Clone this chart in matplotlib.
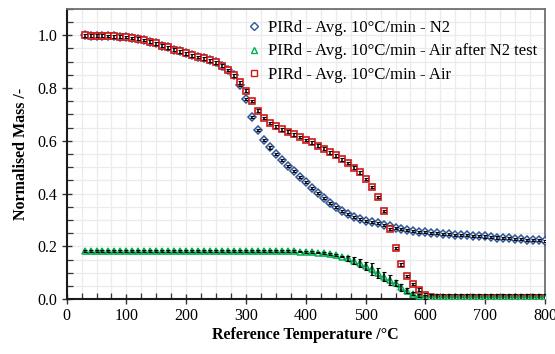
import numpy as np
import matplotlib
matplotlib.use("Agg")
import matplotlib.pyplot as plt
from matplotlib.ticker import MultipleLocator, FormatStrFormatter
from matplotlib.lines import Line2D
import matplotlib.transforms as mtransforms

# Reference temperature (°C)
temperature = list(range(30, 801, 10))

# Shared early part of the N2 and Air curves (30-280 °C)
early = [1.000, 0.999, 0.998, 0.998, 0.997, 0.996, 0.995, 0.993, 0.990, 0.987,
         0.982, 0.976, 0.969, 0.961, 0.954, 0.946, 0.939, 0.932, 0.924, 0.918,
         0.912, 0.905, 0.897, 0.885, 0.869, 0.848]

mass_n2 = early + [
    0.813, 0.759, 0.690, 0.641, 0.603, 0.575, 0.549, 0.527, 0.506, 0.485,
    0.464, 0.443, 0.423, 0.402, 0.382, 0.366, 0.350, 0.334, 0.322, 0.311,
    0.303, 0.298, 0.292, 0.288, 0.283, 0.276, 0.271, 0.266, 0.262, 0.259,
    0.256, 0.254, 0.252, 0.250, 0.249, 0.247, 0.245, 0.244, 0.242, 0.241,
    0.239, 0.238, 0.236, 0.234, 0.233, 0.231, 0.229, 0.228, 0.226, 0.225,
    0.223, 0.221]

mass_air = early + [
    0.822, 0.790, 0.751, 0.715, 0.686, 0.668, 0.655, 0.644, 0.635, 0.625,
    0.615, 0.603, 0.594, 0.582, 0.571, 0.557, 0.545, 0.530, 0.516, 0.498,
    0.481, 0.456, 0.426, 0.387, 0.335, 0.266, 0.194, 0.133, 0.088, 0.058,
    0.036, 0.017, 0.010, 0.006, 0.005, 0.005, 0.005, 0.004, 0.004, 0.004,
    0.004, 0.004, 0.004, 0.004, 0.004, 0.004, 0.004, 0.004, 0.004, 0.004,
    0.004, 0.004]

mass_air_after_n2 = [0.182] * 36 + [
    0.181, 0.180, 0.179, 0.177, 0.175, 0.171, 0.167, 0.162, 0.155, 0.146,
    0.137, 0.127, 0.115, 0.100, 0.086, 0.073, 0.062, 0.046, 0.032, 0.021,
    0.014, 0.010] + [0.008] * 20

# Standard deviations (error bars)
err_n2 = [0.004] * 78
err_air = [0.005] * 78
err_air_after_n2 = [0.003] * 44 + [
    0.010, 0.013, 0.014, 0.016, 0.022, 0.019, 0.017, 0.020, 0.012, 0.013,
    0.009, 0.006, 0.005, 0.008] + [0.012] * 20

labels = ["PIRd - Avg. 10°C/min - N2",
          "PIRd - Avg. 10°C/min - Air after N2 test",
          "PIRd - Avg. 10°C/min - Air"]

c_n2 = "#2F5597"
c_after = "#00B050"
c_air = "#D01818"

plt.rcParams["font.family"] = ["Liberation Serif", "DejaVu Serif"]

fig = plt.figure(figsize=(5.55, 3.54), dpi=100)
ax = fig.add_axes([0.120, 0.1545, 0.862, 0.8205])

ax.set_xlim(0, 800)
ax.set_ylim(0, 1.1)
ax.xaxis.set_major_locator(MultipleLocator(100))
ax.xaxis.set_minor_locator(MultipleLocator(25))
ax.yaxis.set_major_locator(MultipleLocator(0.2))
ax.yaxis.set_minor_locator(MultipleLocator(0.05))
ax.yaxis.set_major_formatter(FormatStrFormatter("%.1f"))

ax.grid(which="both", color="#EBEBEB", lw=0.9, zorder=0)
ax.set_axisbelow(True)

for side in ("left", "bottom"):
    ax.spines[side].set_color("#1a1a1a")
    ax.spines[side].set_linewidth(1.5)
for side in ("top", "right"):
    ax.spines[side].set_color("#707070")
    ax.spines[side].set_linewidth(1.3)

ax.tick_params(which="major", direction="inout", length=7, width=1.0,
               color="#333333", labelsize=11.5, pad=3)
ax.tick_params(which="minor", direction="in", length=4, width=0.9,
               color="#333333")

T = np.array(temperature)

# Green connecting line sits along the base of the triangle markers
line_shift = mtransforms.offset_copy(ax.transData, fig=fig, x=0, y=-2.0,
                                     units="dots")
ax.plot(T[:59], mass_air_after_n2[:59], color=c_after, lw=1.8, alpha=0.85,
        transform=line_shift, zorder=2)

# Markers
ax.plot(T, mass_n2, ls="none", marker="D", ms=3.8, mfc="white", mec=c_n2,
        mew=1.1, zorder=3)
ax.plot(T, mass_air, ls="none", marker="s", ms=4.6, mfc="white", mec=c_air,
        mew=1.2, zorder=4)
ax.plot(T, mass_air_after_n2, ls="none", marker="^", ms=4.4, mfc="white",
        mec=c_after, mew=1.1, zorder=5)

# Error bars drawn over the markers
for y, e, z in ((mass_n2, err_n2, 3.5), (mass_air, err_air, 4.5),
                (mass_air_after_n2, err_air_after_n2, 5.5)):
    ax.errorbar(T, y, yerr=e, fmt="none", ecolor="black", elinewidth=1.1,
                capsize=1.5, capthick=0.8, zorder=z)

leg_handles = [
    Line2D([], [], ls="none", marker="D", ms=4, mfc="white", mec=c_n2, mew=1.0),
    Line2D([], [], ls="none", marker="^", ms=5, mfc="white", mec=c_after, mew=1.0),
    Line2D([], [], ls="none", marker="s", ms=5, mfc="white", mec=c_air, mew=1.0),
]
ax.legend(leg_handles, labels, loc="upper right", bbox_to_anchor=(1.008, 1.002),
          frameon=False, fontsize=12.0, handlelength=0.7, handletextpad=0.5,
          labelspacing=0.45, borderaxespad=0.3)

ax.set_xlabel("Reference Temperature /°C", fontsize=11.5, fontweight="bold",
              labelpad=2)
ax.set_ylabel("Normalised Mass /-", fontsize=11.5, fontweight="bold",
              labelpad=6)

fig.savefig("out.png", dpi=100)
